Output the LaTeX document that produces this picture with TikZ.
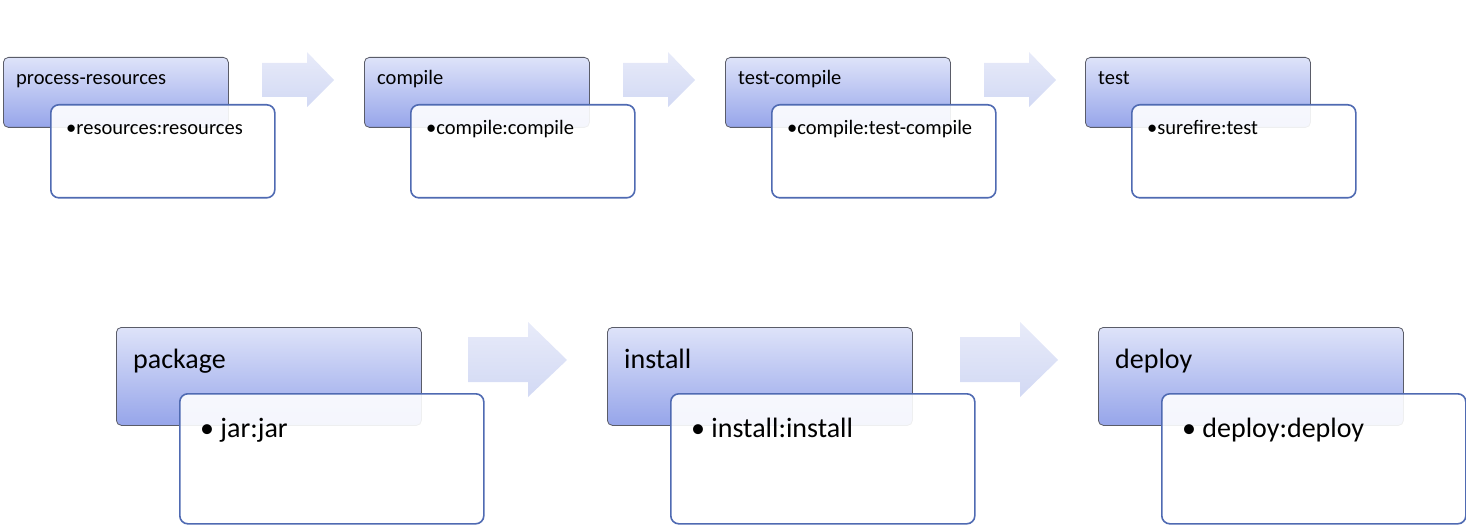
\documentclass[tikz,border=0pt]{standalone}
\usepackage{fontspec}
\setmainfont{Carlito}
\usetikzlibrary{positioning}
\definecolor{headtop}{RGB}{222,227,249}
\definecolor{headbot}{RGB}{150,165,234}
\definecolor{headline}{RGB}{90,92,104}
\definecolor{bodyline}{RGB}{79,106,178}
\definecolor{arrtop}{RGB}{232,235,249}
\definecolor{arrbot}{RGB}{210,217,244}

\begin{document}
\begin{tikzpicture}[x=1pt,y=-1pt,
   phase/.style={draw=headline,line width=0.8pt,rounded corners=5pt,
      top color=headtop,bottom color=headbot,anchor=north west,inner sep=0pt},
   goals/.style={draw=bodyline,line width=1.6pt,rounded corners=8pt,
      fill=white,fill opacity=0.9,text opacity=1,anchor=north west,inner sep=0pt},
   small/.style={minimum width=225pt,minimum height=70pt},
   large/.style={minimum width=305pt,minimum height=98pt},
   smallbody/.style={minimum width=224pt,minimum height=93pt},
   largebody/.style={minimum width=304pt,minimum height=130pt},
   flow/.style={top color=arrtop,bottom color=arrbot},
   every label/.style={font=\fontsize{20.5}{24}\selectfont,anchor=base west,inner sep=0pt}]
\useasboundingbox (0,0) rectangle (1466,529);

% top row
\node[phase,small,label={[xshift=13pt,yshift=-28pt]north west:process-resources}] (proc) at (3,57) {};
\node[goals,smallbody,label={[xshift=16pt,yshift=-31pt]north west:\textbullet resources:resources}] (procg) at (50,104) {};
\path[flow] (262,63) -- ++(45,0) -- ++(0,-11) -- (334,80) -- (307,107) -- ++(0,-10) -- ++(-45,0) -- cycle;

\node[phase,small,label={[xshift=13pt,yshift=-28pt]north west:compile}] (comp) at (364,57) {};
\node[goals,smallbody,label={[xshift=16pt,yshift=-31pt]north west:\textbullet compile:compile}] (compg) at (410,104) {};
\path[flow] (623,63) -- ++(45,0) -- ++(0,-11) -- (695,80) -- (668,107) -- ++(0,-10) -- ++(-45,0) -- cycle;

\node[phase,small,label={[xshift=13pt,yshift=-28pt]north west:test-compile}] (tcomp) at (725,57) {};
\node[goals,smallbody,label={[xshift=16pt,yshift=-31pt]north west:\textbullet compile:test-compile}] (tcompg) at (771,104) {};
\path[flow] (984,63) -- ++(45,0) -- ++(0,-11) -- (1056,80) -- (1029,107) -- ++(0,-10) -- ++(-45,0) -- cycle;

\node[phase,small,label={[xshift=13pt,yshift=-28pt]north west:test}] (test) at (1085,57) {};
\node[goals,smallbody,label={[xshift=16pt,yshift=-31pt]north west:\textbullet surefire:test}] (testg) at (1131,104) {};

% bottom row
\tikzset{every label/.append style={font=\fontsize{28}{33}\selectfont}}
\node[phase,large,label={[xshift=17pt,yshift=-41pt]north west:package}] (pack) at (116,327) {};
\node[goals,largebody,label={[xshift=21pt,yshift=-44pt]north west:\textbullet\ jar:jar}] (packg) at (179,393) {};
\path[flow] (468,337) -- ++(60,0) -- ++(0,-15) -- (567,360) -- (528,397) -- ++(0,-15) -- ++(-60,0) -- cycle;

\node[phase,large,label={[xshift=17pt,yshift=-41pt]north west:install}] (inst) at (607,327) {};
\node[goals,largebody,label={[xshift=21pt,yshift=-44pt]north west:\textbullet\ install:install}] (instg) at (670,393) {};
\path[flow] (960,337) -- ++(60,0) -- ++(0,-15) -- (1058,360) -- (1020,397) -- ++(0,-15) -- ++(-60,0) -- cycle;

\node[phase,large,label={[xshift=17pt,yshift=-41pt]north west:deploy}] (depl) at (1098,327) {};
\node[goals,largebody,label={[xshift=21pt,yshift=-44pt]north west:\textbullet\ deploy:deploy}] (deplg) at (1161,393) {};
\end{tikzpicture}
\end{document}
